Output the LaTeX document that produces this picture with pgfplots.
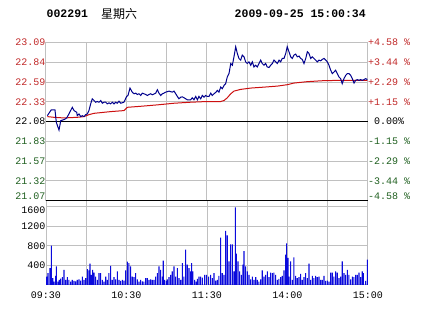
\documentclass[border=0pt]{standalone}
\usepackage{pgfplots}
\pgfplotsset{compat=1.18}
\usepackage{fontspec}
\setmainfont{Liberation Mono}
\newfontfamily\cjk{Noto Sans CJK SC}
\definecolor{upred}{HTML}{C02828}
\definecolor{dngreen}{HTML}{1F5F1F}
\definecolor{gridgray}{HTML}{C0C0C0}
\definecolor{priceblue}{HTML}{00008C}
\definecolor{avgred}{HTML}{CC1010}
\definecolor{volblue}{HTML}{0A0ADC}
\begin{document}
\begin{tikzpicture}[x=1pt,y=1pt]
\path[use as bounding box] (0,0) rectangle (424,-312);
% header
\node[anchor=west,font=\bfseries\fontsize{11.5}{12}\selectfont,inner sep=0] at (46.5,-14) {002291};
\node[anchor=west,font=\cjk\fontsize{12}{13}\selectfont,inner sep=0] at (101,-14) {星期六};
\node[anchor=west,font=\bfseries\fontsize{11.5}{12}\selectfont,inner sep=0] at (234.5,-14) {2009-09-25 15:00:34};
\pgfplotsset{
  chartbase/.style={
    scale only axis, width=322pt, xmin=0, xmax=240,
    axis line style={gridgray, line width=1pt},
    grid=major, grid style={gridgray, line width=1pt},
    major tick length=0pt,
    xtick={0,30,60,90,120,150,180,210,240},
    tick label style={font=\fontsize{10}{10}\selectfont},
    yticklabel style={xshift=3pt},
  }
}
% volume panel
\begin{axis}[chartbase, at={(46pt,-285pt)}, anchor=south west,
  height=84.3pt, ymin=0, ymax=1722.6, clip=false,
  ytick={400,800,1200,1600}, yticklabels={400,800,1200,},
  xticklabels={09:30,,10:30,,11:30,,14:00,,15:00},
  xticklabel style={yshift=-3pt},
  ]
\addplot[ybar, bar width=1.1pt, fill=volblue, draw=none] coordinates {
(0.5,172) (1.5,242) (3.0,345) (4.0,807) (5.0,138) (6.0,69) (7.2,186) (7.7,380)
(8.9,69) (9.9,104) (10.9,131) (12.2,159) (13.4,311) (14.7,104) (15.9,159) (17.1,104)
(18.4,69) (19.6,104) (20.9,83) (22.1,76) (23.3,104) (24.6,117) (25.8,90) (27.1,172)
(28.3,104) (29.6,138) (30.8,324) (32.0,297) (32.8,435) (33.8,207) (34.8,311) (35.8,255)
(37.0,172) (38.3,104) (39.5,242) (40.7,242) (42.0,104) (43.2,69) (44.5,172) (45.7,104)
(46.9,242) (48.2,393) (49.4,104) (50.7,159) (51.9,117) (53.2,276) (54.4,104) (55.6,83)
(56.9,104) (58.1,90) (59.4,297) (60.6,476) (61.8,449) (63.1,380) (64.3,172) (65.6,159)
(66.8,242) (68.1,117) (69.3,69) (70.5,104) (71.8,76) (73.0,69) (74.3,138) (75.5,138)
(76.8,104) (78.0,117) (79.2,104) (80.5,104) (81.7,172) (83.0,242) (84.2,380) (85.4,311)
(86.7,172) (87.4,497) (88.4,104) (89.7,83) (90.4,117) (91.7,159) (92.9,207) (94.1,276)
(95.4,380) (96.6,172) (97.9,345) (99.1,138) (100.4,104) (101.6,449) (102.8,172) (104.1,725)
(105.3,414) (106.6,345) (107.8,276) (108.5,449) (109.5,276) (110.8,104) (112.0,69) (112.8,124)
(114.0,172) (115.3,172) (116.5,152)
(118.3,207) (119.7,207) (121.2,172) (122.7,207) (124.0,138) (125.2,242) (126.5,90) (127.7,104)
(128.9,186) (130.2,966) (131.4,242) (132.7,207) (133.9,1104) (135.1,1014) (136.4,483) (137.6,828)
(138.9,828) (140.1,276) (141.1,1587) (141.9,642) (143.1,483) (144.3,276) (145.6,207) (146.8,414)
(147.6,690) (148.8,380) (150.1,276) (151.3,207) (152.5,117) (153.8,172) (155.0,104) (156.3,159)
(157.5,104) (158.7,69) (160.0,117) (161.2,297) (162.5,172) (163.7,207) (165.0,276) (166.2,159)
(167.4,255) (168.7,242) (169.9,255) (171.2,207) (172.4,104) (173.6,124) (174.9,159) (176.1,186)
(177.4,297) (178.6,621) (179.4,849) (180.4,552) (181.1,172) (182.3,483) (183.6,104) (184.8,566)
(186.1,186) (187.3,138) (188.6,159) (189.8,228) (191.0,104) (192.3,159) (193.5,242) (194.8,138)
(196.0,435) (197.2,104) (198.5,186) (199.7,138) (201.0,186) (202.2,159) (203.5,172) (204.7,104)
(205.9,104) (207.2,186) (208.4,83) (209.7,90) (210.9,69) (212.2,255) (213.4,255) (214.6,172)
(215.9,276) (217.1,255) (218.4,138) (219.6,172) (220.8,483) (222.1,242) (223.3,207) (224.6,311)
(225.8,207) (227.1,117) (228.3,172) (229.5,159) (230.8,207) (232.0,207) (233.3,255) (234.5,159)
(235.7,276) (236.5,242) (238.2,83) (239.5,518)
};
\node[anchor=east, inner sep=0, font=\fontsize{10}{10}\selectfont] at ([xshift=-0.3pt,yshift=-3.5pt]axis cs:0,1600) {1600};
\end{axis}
% price panel
\begin{axis}[chartbase, at={(46pt,-200.7pt)}, anchor=south west,
  height=158pt, ymin=21.07, ymax=23.09, clip=false,
  xticklabels={},
  ytick={21.07,21.3225,21.575,21.8275,22.08,22.3325,22.585,22.8375,23.09},
  yticklabels={,\color{dngreen}21.32,\color{dngreen}21.57,\color{dngreen}21.83,22.08,\color{upred}22.33,\color{upred}22.59,\color{upred}22.84,\color{upred}23.09},
  ]
\addplot[black, line width=1.3pt] coordinates {(0,22.08) (240,22.08)};
\addplot[black, line width=1.6pt] coordinates {(0,21.07) (240,21.07)};
\addplot[avgred, line width=1pt] coordinates {
(1.0,22.145) (6.0,22.136) (13.4,22.128) (23.3,22.136) (28.3,22.145) (32.0,22.170)
(35.8,22.187) (48.2,22.209) (58.1,22.222) (60.6,22.264) (70.6,22.277) (83.0,22.295)
(95.4,22.316) (107.8,22.329) (120.2,22.338) (130.2,22.338) (132.7,22.351) (135.1,22.385)
(137.7,22.437) (140.1,22.471) (145.1,22.493) (152.6,22.510) (162.5,22.522) (172.4,22.535)
(179.8,22.553) (184.8,22.574) (194.8,22.592) (207.2,22.605) (222.1,22.609) (239.5,22.609)
};
\addplot[priceblue, line width=1pt] coordinates {
(1.0,22.157) (3.9,22.231) (6.7,22.231) (7.7,22.071) (9.7,21.973) (11.0,22.093) (13.9,22.110)
(15.4,22.128) (17.1,22.179) (19.6,22.264) (20.9,22.222) (22.9,22.200) (23.3,22.157) (24.6,22.179)
(25.9,22.145) (27.1,22.157) (28.3,22.145) (29.6,22.170) (30.8,22.179) (32.0,22.222) (33.3,22.308)
(34.5,22.373) (35.8,22.351) (37.0,22.329) (38.2,22.338) (39.5,22.329) (40.8,22.351) (42.0,22.316)
(43.2,22.329) (44.5,22.329) (45.7,22.308) (47.0,22.321) (48.2,22.308) (49.4,22.329) (50.7,22.308)
(51.9,22.329) (53.1,22.316) (54.4,22.342) (55.7,22.316) (58.1,22.329) (60.1,22.403) (61.1,22.415)
(62.6,22.510) (64.3,22.458) (65.6,22.437) (66.9,22.445) (68.0,22.428) (69.3,22.437) (70.6,22.415)
(71.8,22.445) (73.0,22.437) (74.3,22.428) (75.5,22.415) (76.8,22.428) (78.0,22.437) (79.2,22.424)
(81.8,22.445) (83.0,22.489) (84.2,22.445) (85.5,22.415) (86.7,22.437) (87.9,22.445) (89.2,22.458)
(91.7,22.471) (94.1,22.458) (95.4,22.471) (96.7,22.437) (97.9,22.403) (99.1,22.373) (100.4,22.393)
(101.6,22.398) (102.9,22.386) (105.3,22.360) (107.8,22.360) (109.0,22.386) (110.3,22.360)
(111.6,22.403) (112.8,22.360) (114.0,22.403) (115.3,22.373) (116.5,22.415) (117.8,22.393)
(119.0,22.415) (120.2,22.403) (121.5,22.403) (122.8,22.445) (123.9,22.415) (125.2,22.437)
(126.5,22.454) (127.7,22.480) (128.9,22.458) (130.2,22.522) (131.4,22.502) (132.7,22.544)
(133.9,22.566) (135.1,22.651) (136.4,22.695) (137.7,22.824) (138.9,22.802) (140.1,22.909)
(141.4,23.038) (142.6,22.953) (143.8,22.889) (145.1,22.867) (146.3,22.931) (147.6,22.909)
(148.8,22.845) (150.0,22.824) (151.3,22.845) (152.6,22.802) (153.8,22.845) (155.0,22.780)
(156.3,22.802) (157.5,22.780) (158.8,22.824) (160.0,22.867) (161.2,22.824) (162.5,22.802)
(163.7,22.824) (164.9,22.780) (166.2,22.773) (167.5,22.802) (168.7,22.824) (169.9,22.867)
(171.2,22.845) (172.4,22.824) (173.7,22.867) (174.9,22.845) (176.1,22.889) (177.4,22.889)
(178.7,22.953) (179.8,23.038) (181.1,22.974) (182.4,22.909) (183.6,22.889) (184.8,22.931)
(186.1,22.944) (187.3,22.909) (188.6,22.919) (189.8,22.889) (191.0,22.876) (192.3,22.824)
(193.6,22.889) (194.8,22.974) (196.0,22.953) (197.3,22.889) (198.5,22.909) (199.7,22.889)
(201.0,22.867) (202.2,22.845) (203.5,22.867) (204.7,22.858) (205.9,22.876) (207.2,22.889)
(208.5,22.867) (209.7,22.845) (210.9,22.802) (212.2,22.738) (213.4,22.695) (214.7,22.716)
(215.9,22.738) (217.1,22.695) (218.4,22.651) (219.6,22.631) (220.8,22.566) (222.1,22.631)
(223.4,22.673) (224.6,22.695) (225.8,22.695) (227.1,22.673) (228.3,22.631) (229.6,22.574)
(230.8,22.609) (232.0,22.618) (233.3,22.609) (234.5,22.618) (235.7,22.609) (237.0,22.618)
(238.3,22.631) (239.5,22.618)
};
\node[anchor=east, inner sep=0, text=dngreen, font=\fontsize{10}{10}\selectfont] at ([xshift=-0.3pt,yshift=4.5pt]axis cs:0,21.07) {21.07};
\begin{scope}[every node/.style={anchor=west, inner sep=0, font=\fontsize{10}{10}\selectfont}]
\node[text=upred] at (axis cs:240,23.09) {+4.58 \%};
\node[text=upred] at (axis cs:240,22.8375) {+3.44 \%};
\node[text=upred] at (axis cs:240,22.585) {+2.29 \%};
\node[text=upred] at (axis cs:240,22.3325) {+1.15 \%};
\node[text=black] at (axis cs:240,22.08) {\ 0.00\%};
\node[text=dngreen] at (axis cs:240,21.8275) {-1.15 \%};
\node[text=dngreen] at (axis cs:240,21.575) {-2.29 \%};
\node[text=dngreen] at (axis cs:240,21.3225) {-3.44 \%};
\node[text=dngreen] at ([yshift=4.5pt]axis cs:240,21.07) {-4.58 \%};
\end{scope}
\end{axis}
\end{tikzpicture}
\end{document}
